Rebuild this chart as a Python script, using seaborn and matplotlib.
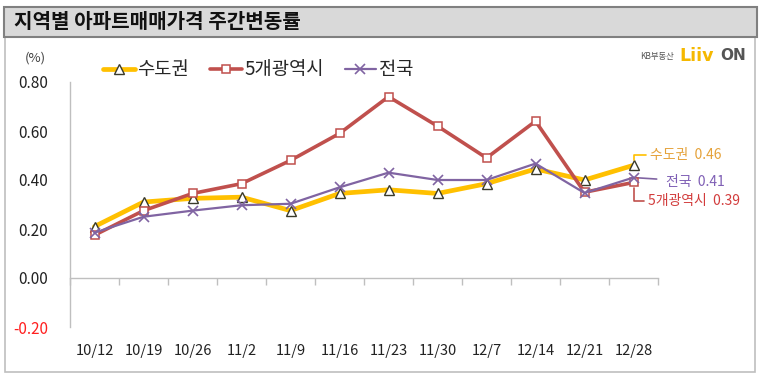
import matplotlib
matplotlib.use('Agg')

import matplotlib.pyplot as plt
import seaborn as sns
import pandas as pd
from matplotlib.patches import Rectangle

weeks = ["10/12", "10/19", "10/26", "11/2", "11/9", "11/16",
         "11/23", "11/30", "12/7", "12/14", "12/21", "12/28"]
capital = [0.21, 0.31, 0.325, 0.33, 0.275, 0.345, 0.36, 0.345, 0.385, 0.445, 0.40, 0.46]
metro5 = [0.175, 0.275, 0.345, 0.385, 0.48, 0.59, 0.74, 0.62, 0.49, 0.64, 0.35, 0.39]
nation = [0.185, 0.25, 0.275, 0.297, 0.303, 0.37, 0.43, 0.40, 0.40, 0.467, 0.347, 0.41]
yticks = [0.8, 0.6, 0.4, 0.2, 0.0, -0.2]

sns.set_style("white")
plt.rcParams['font.family'] = ['Noto Sans CJK KR', 'DejaVu Sans']

W, H = 766, 382
fig = plt.figure(figsize=(W / 100, H / 100), dpi=100)


def fx(px):
    return px / W


def fy(py):
    return 1 - py / H


# frame and title bar
fig.patches.append(Rectangle((fx(5), fy(372)), fx(755) - fx(5), fy(37) - fy(372),
                             transform=fig.transFigure, facecolor="white",
                             edgecolor="#bfbfbf", lw=1.2, zorder=-2))
fig.patches.append(Rectangle((fx(4), fy(37)), fx(757) - fx(4), fy(7) - fy(37),
                             transform=fig.transFigure, facecolor="#d9d9d9",
                             edgecolor="#808080", lw=1.5, zorder=-1))
fig.text(fx(14), fy(22), "지역별 아파트매매가격 주간변동률", fontsize=14.5,
         fontweight="bold", color="#111111", va="center", ha="left")
fig.text(fx(35), fy(58), "(%)", fontsize=9.5, color="#404040", ha="center", va="center")

# logo
fig.text(fx(674), fy(57), "KB부동산", fontsize=6, color="#555555", ha="right", va="center")
fig.text(fx(679), fy(56), "Liiv", fontsize=12.5, fontweight="bold", color="#f5b800",
         ha="left", va="center", family="DejaVu Sans")
fig.text(fx(720), fy(56), "ON", fontsize=11, fontweight="bold", color="#555555",
         ha="left", va="center", family="DejaVu Sans")

ax = fig.add_axes([fx(70), fy(327), fx(658) - fx(70), fy(82) - fy(327)])
ax.patch.set_alpha(0)

df = pd.DataFrame({"x": range(len(weeks)), "capital": capital,
                   "metro5": metro5, "nation": nation})

sns.lineplot(data=df, x="x", y="capital", ax=ax, color="#ffc000", linewidth=3.4,
             marker="^", markersize=6.5, markerfacecolor="white",
             markeredgecolor="#3a3a2a", markeredgewidth=1.0, label="수도권", zorder=3)
sns.lineplot(data=df, x="x", y="metro5", ax=ax, color="#c0504d", linewidth=2.6,
             marker="s", markersize=5.5, markerfacecolor="white",
             markeredgecolor="#c0504d", markeredgewidth=1.1, label="5개광역시", zorder=4)
sns.lineplot(data=df, x="x", y="nation", ax=ax, color="#8064a2", linewidth=1.6,
             marker="x", markersize=7, markeredgecolor="#8064a2",
             markeredgewidth=1.2, label="전국", zorder=5)

ax.set_xlim(-0.5, len(weeks) - 0.5)
ax.set_ylim(-0.2, 0.8)
ax.set_xlabel("")
ax.set_ylabel("")

ax.set_xticks(range(len(weeks)))
ax.set_xticklabels(weeks)
ax.tick_params(axis="x", length=0, pad=12, labelsize=10.5, colors="#222222")
ax.set_yticks(yticks)
ax.set_yticklabels([f"{v:.2f}" for v in yticks])
ax.tick_params(axis="y", direction="in", length=4, width=1, color="#bfbfbf",
               pad=16, labelsize=11, labelcolor="#222222")
for lab in ax.get_yticklabels():
    if lab.get_text().startswith("-"):
        lab.set_color("#ff2020")

for side in ["top", "right", "bottom"]:
    ax.spines[side].set_visible(False)
ax.spines["left"].set_color("#bfbfbf")
ax.spines["left"].set_linewidth(1)

# zero line with category-boundary ticks
sec = ax.secondary_xaxis(0.2)
sec.set_xticks([i - 0.5 for i in range(len(weeks) + 1)])
sec.set_xticklabels([])
sec.tick_params(axis="x", direction="out", length=5, width=1, color="#bfbfbf")
sec.spines["bottom"].set_color("#bfbfbf")
sec.spines["bottom"].set_linewidth(1)

leg = ax.legend(loc="center", bbox_to_anchor=(0.32, 1.05), ncol=3, frameon=False,
                fontsize=13.5, handlelength=1.7, handletextpad=0.15,
                columnspacing=1.1, borderpad=0)

# end labels
last = len(weeks) - 1
ax.annotate(f"수도권  {capital[-1]:.2f}", xy=(last, capital[-1]), xytext=(17, 10),
            textcoords="offset pixels", ha="left", va="center", fontsize=10,
            color="#e5a23a",
            arrowprops=dict(arrowstyle="-", color="#ffc000", lw=1.2,
                            connectionstyle="angle,angleA=0,angleB=90",
                            shrinkA=1, shrinkB=4))
ax.annotate(f"전국  {nation[-1]:.2f}", xy=(last, nation[-1]), xytext=(32, -4),
            textcoords="offset pixels", ha="left", va="center", fontsize=10,
            color="#7f5fb5",
            arrowprops=dict(arrowstyle="-", color="#8064a2", lw=1.2,
                            shrinkA=4, shrinkB=2))
ax.annotate(f"5개광역시  {metro5[-1]:.2f}", xy=(last, metro5[-1]), xytext=(15, -19),
            textcoords="offset pixels", ha="left", va="center", fontsize=10,
            color="#d23c3c",
            arrowprops=dict(arrowstyle="-", color="#c0504d", lw=1.2,
                            connectionstyle="angle,angleA=0,angleB=90",
                            shrinkA=1, shrinkB=4))

fig.savefig("out.png", dpi=100)
plt.close()
